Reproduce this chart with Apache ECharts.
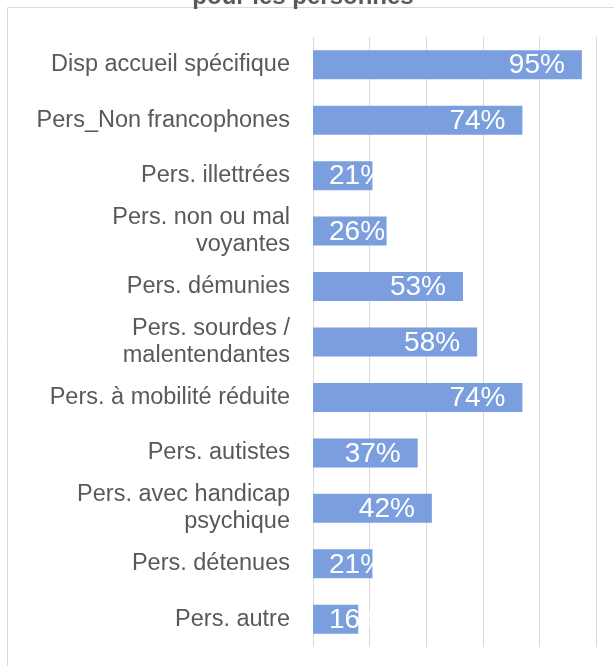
<!DOCTYPE html>
<html>
<head>
<meta charset="utf-8">
<script src="https://cdn.jsdelivr.net/npm/echarts@6/dist/echarts.min.js"></script>
<style>html,body{margin:0;padding:0;background:#fff;}#c{width:614px;height:666px;}</style>
</head>
<body>
<div id="c"></div>
<script>
var titleText = 'pour les personnes';
var categories = [
  'Disp accueil spécifique',
  'Pers_Non francophones',
  'Pers. illettrées',
  'Pers. non ou mal\nvoyantes',
  'Pers. démunies',
  'Pers. sourdes /\nmalentendantes',
  'Pers. à mobilité réduite',
  'Pers. autistes',
  'Pers. avec handicap\npsychique',
  'Pers. détenues',
  'Pers. autre'
];
var values = [95, 74, 21, 26, 53, 58, 74, 37, 42, 21, 16];
var axisTicks = [0, 20, 40, 60, 80, 100];

var chart = echarts.init(document.getElementById('c'));
var data = values.map(function (v) {
  var small = v < 32;
  return {
    value: v,
    label: {
      position: small ? 'insideLeft' : 'insideRight',
      distance: small ? 16 : 17
    }
  };
});
chart.setOption({
  animation: false,
  graphic: [
    {type: 'rect', shape: {x: 7.5, y: 7.5, width: 800, height: 800}, style: {fill: 'none', stroke: '#d9d9d9', lineWidth: 1}, z: 0},
    {type: 'text', x: 303, y: -3, style: {text: titleText, fill: '#595959', font: 'bold 24px "Liberation Sans", Arial, sans-serif', align: 'center', verticalAlign: 'middle'}}
  ],
  grid: {left: 313, top: 37, width: 283, height: 610, containLabel: false},
  xAxis: {
    type: 'value', min: axisTicks[0], max: axisTicks[axisTicks.length - 1], interval: 20,
    axisLabel: {show: false}, axisLine: {show: false}, axisTick: {show: false},
    splitLine: {show: true, lineStyle: {color: '#d9d9d9', width: 1}}
  },
  yAxis: {
    type: 'category', data: categories, inverse: true,
    axisLine: {show: false}, axisTick: {show: false},
    axisLabel: {margin: 23, color: '#595959', fontSize: 23.5, lineHeight: 27, fontFamily: '"Liberation Sans", Arial, sans-serif', align: 'right'}
  },
  series: [{
    type: 'bar', data: data, barWidth: 29,
    itemStyle: {color: '#7A9EDE'},
    label: {show: true, color: '#ffffff', fontSize: 28, offset: [0, 1], fontFamily: '"Liberation Sans", Arial, sans-serif', formatter: '{c}%'}
  }]
});
</script>
</body>
</html>
